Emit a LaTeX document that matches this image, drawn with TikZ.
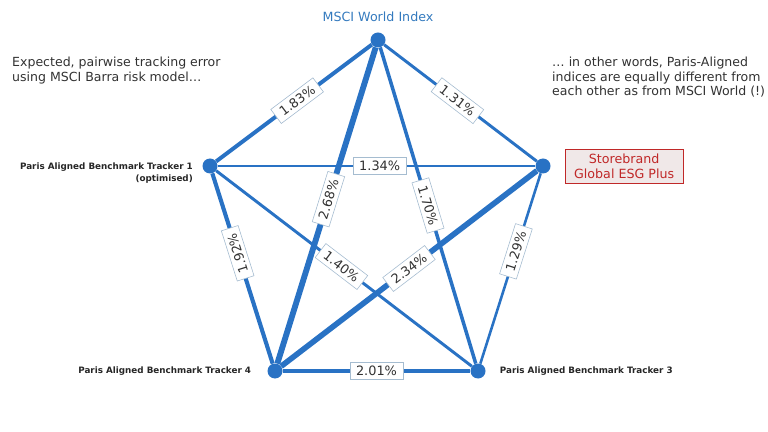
\documentclass[tikz,border=0pt]{standalone}
\usepackage{fontspec}
\setmainfont{DejaVu Sans}
\usetikzlibrary{positioning}
\definecolor{msciblue}{RGB}{41,114,196}
\definecolor{titleblue}{RGB}{52,122,190}
\definecolor{boxline}{RGB}{165,188,208}
\definecolor{sbred}{RGB}{192,40,40}
\definecolor{sbfill}{RGB}{240,232,232}
\definecolor{txtgray}{RGB}{50,50,50}
\tikzset{
	dot/.style={circle, fill=msciblue, minimum size=0.45cm, inner sep=0pt},
	link/.style={draw=msciblue},
	te/.style={sloped, fill=white, draw=boxline, line width=0.5pt, font=\fontsize{11}{13}\selectfont, text=txtgray, inner xsep=5pt, inner ysep=2pt, minimum height=15pt},
	trk/.style={font=\bfseries\fontsize{7.5}{10}\selectfont, text=black!85, inner sep=0pt},
	note/.style={font=\fontsize{10.7}{12.75}\selectfont, text=txtgray, align=left, inner sep=0pt},
	sbbox/.style={draw=sbred, fill=sbfill, text=sbred, align=center, font=\fontsize{10.8}{12.5}\selectfont, inner ysep=4pt, minimum width=101pt},
}
\begin{document}
\begin{tikzpicture}
		\useasboundingbox (0,0) rectangle (23.04,12.93);
		\node[dot] (m) at (11.34,11.73) {};
		\node[dot] (p1) at (6.30,7.95) {};
		\node[dot] (sb) at (16.29,7.95) {};
		\node[dot] (p4) at (8.25,1.80) {};
		\node[dot] (p3) at (14.34,1.80) {};
		\node[font=\fontsize{10.8}{12}\selectfont, text=titleblue, inner sep=0pt, above=0.3cm of m] (title) {MSCI World Index};
		% pairwise lines, width by tracking error
		\draw[link, line width=3.4pt] (p1) -- (m);
		\draw[link, line width=2.5pt] (m) -- (sb);
		\draw[link, line width=2.2pt] (p1) -- (sb);
		\draw[link, line width=5pt] (m) -- (p4);
		\draw[link, line width=3pt] (m) -- (p3);
		\draw[link, line width=3.5pt] (p1) -- (p4);
		\draw[link, line width=2.2pt] (sb) -- (p3);
		\draw[link, line width=2.5pt] (p1) -- (p3);
		\draw[link, line width=4.8pt] (p4) -- (sb);
		\draw[link, line width=4.2pt] (p4) -- (p3);
		% value boxes
		\path (p1) -- node[te, pos=0.52] {1.83\%} (m);
		\path (m) -- node[te, pos=0.48] {1.31\%} (sb);
		\path (p1) -- node[te, pos=0.51] {1.34\%} (sb);
		\path (m) -- node[te, pos=0.48] {2.68\%} (p4);
		\path (m) -- node[te, pos=0.50] {1.70\%} (p3);
		\path (p4) -- node[te, pos=0.58, allow upside down] {1.92\%} (p1);
		\path (sb) -- node[te, pos=0.41] {1.29\%} (p3);
		\path (p1) -- node[te, pos=0.49] {1.40\%} (p3);
		\path (p4) -- node[te, pos=0.50] {2.34\%} (sb);
		\path (p4) -- node[te, pos=0.50] {2.01\%} (p3);
		% names
		\node[trk, anchor=north east, align=right] (t1) at ([xshift=-0.51cm, yshift=0.1cm]p1) {Paris Aligned Benchmark Tracker 1\\(optimised)};
		\node[trk, left=0.48cm of p4] (t4) {Paris Aligned Benchmark Tracker 4};
		\node[trk, right=0.42cm of p3] (t3) {Paris Aligned Benchmark Tracker 3};
		\node[sbbox, right=0.42cm of sb] (sbl) {Storebrand\\Global ESG Plus};
		% comments
		\node[note, anchor=north west] (lefttxt) at (0.36,11.24) {Expected, pairwise tracking error\\using MSCI Barra risk model…};
		\node[note, anchor=north west] (righttxt) at (16.56,11.24) {… in other words, Paris-Aligned\\indices are equally different from\\each other as from MSCI World (!)};
	\end{tikzpicture}
\end{document}
